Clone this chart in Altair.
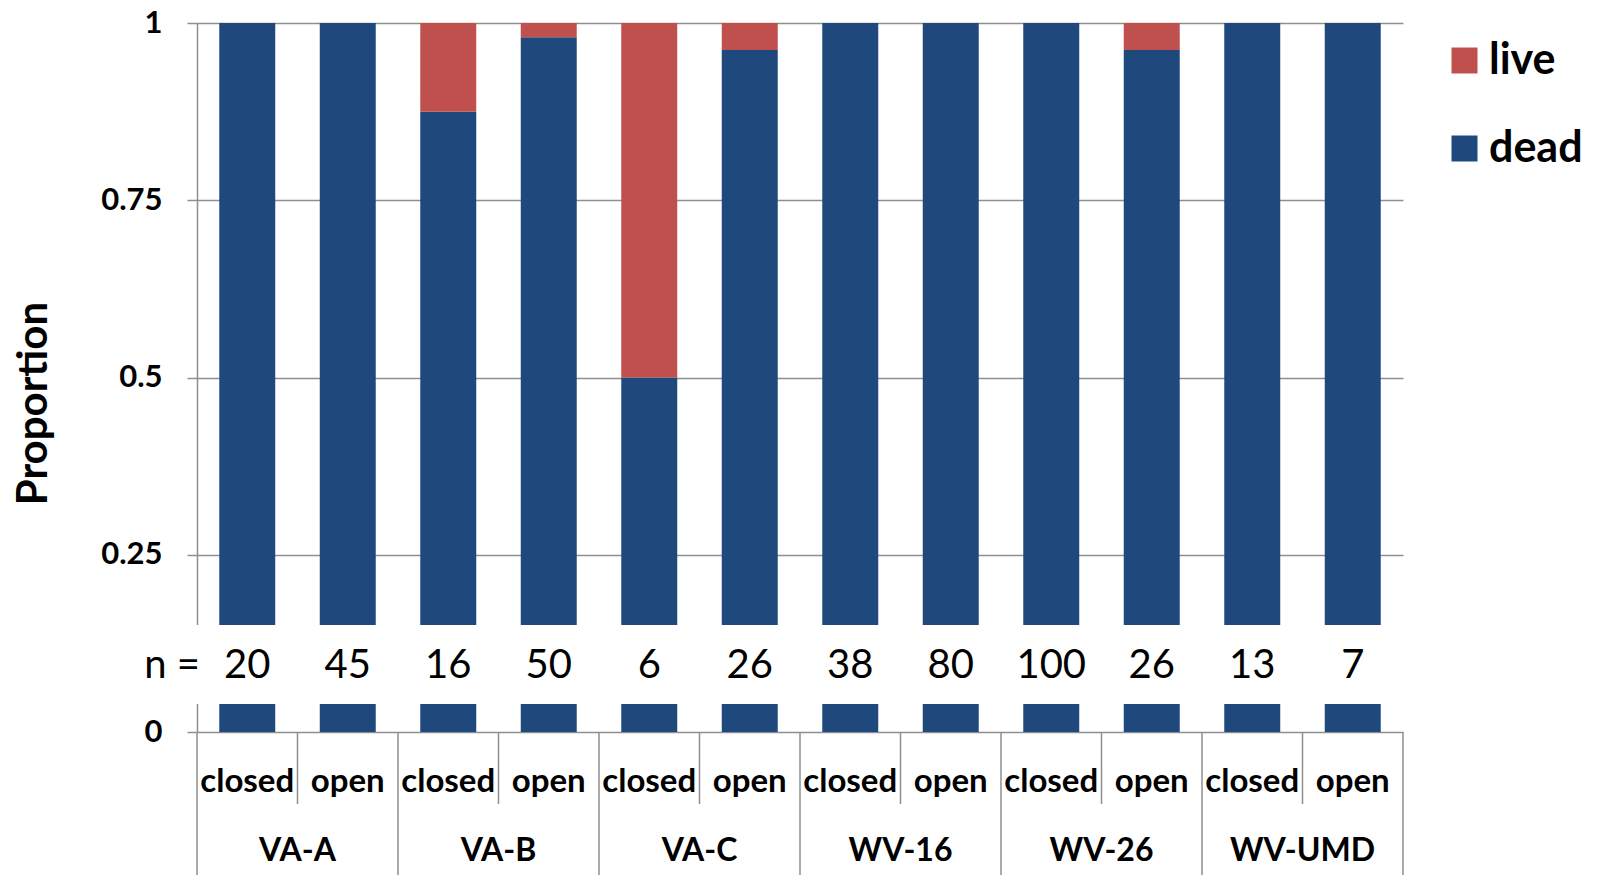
import altair as alt
import pandas as pd

groups = ["VA-A", "VA-B", "VA-C", "WV-16", "WV-26", "WV-UMD"]
treatments = ["closed", "open"]
n_values = [20, 45, 16, 50, 6, 26, 38, 80, 100, 26, 13, 7]
dead_prop = [1.0, 1.0, 0.875, 0.98, 0.5, 0.962, 1.0, 1.0, 1.0, 0.962, 1.0, 1.0]
y_ticks = [0, 0.25, 0.5, 0.75, 1]
series = ["live", "dead"]
colors = ["#C0504D", "#1F497D"]

FONT = "Lato"
GRAY = "#8f8f8f"
W, H = 1206, 709

cats, cat_group, cat_treat, rows = [], [], [], []
for gi, g in enumerate(groups):
    for ti, t in enumerate(treatments):
        i = gi * 2 + ti
        key = f"{g}|{t}"
        cats.append(key)
        cat_group.append(g)
        cat_treat.append(t)
        rows.append(dict(cat=key, status="dead", value=dead_prop[i], ord=0))
        rows.append(dict(cat=key, status="live", value=round(1 - dead_prop[i], 4), ord=1))

bars_df = pd.DataFrame(rows)
cat_df = pd.DataFrame(dict(cat=cats, group=cat_group, treat=cat_treat, n=n_values))
one = pd.DataFrame({"a": [0]})

xscale = alt.Scale(paddingInner=0, paddingOuter=0)


def X(bp=None):
    if bp is None:
        return alt.X("cat:N", sort=cats, scale=xscale, axis=None)
    return alt.X("cat:N", sort=cats, scale=xscale, axis=None, bandPosition=bp)


bars = alt.Chart(bars_df).mark_bar(width=alt.RelativeBandSize(band=0.557)).encode(
    x=X(),
    y=alt.Y(
        "value:Q",
        stack="zero",
        scale=alt.Scale(domain=[0, 1], nice=False),
        axis=alt.Axis(
            values=y_ticks, labelExpr="toString(datum.value)", grid=True,
            gridColor=GRAY, gridWidth=1.5,
            domainColor=GRAY, domainWidth=1.5,
            tickColor=GRAY, tickWidth=1.5, tickSize=10,
            labelFont=FONT, labelFontSize=31, labelFontWeight="bold",
            labelColor="black", labelPadding=25,
            title="Proportion", titleFont=FONT, titleFontSize=42,
            titleFontWeight="bold", titleColor="black",
            titleX=-164, titleY=380, titleAngle=270,
            titleAlign="center", titleBaseline="middle",
        ),
    ),
    color=alt.Color(
        "status:N",
        scale=alt.Scale(domain=series, range=colors),
        legend=alt.Legend(
            title=None, orient="none", legendX=1246, legendY=16,
            symbolType="square", symbolSize=676, symbolStrokeWidth=0,
            symbolOpacity=1,
            labelFont=FONT, labelFontSize=43, labelFontWeight="bold",
            labelColor="black", labelOffset=3, rowPadding=44, padding=0,
        ),
    ),
    order=alt.Order("ord:Q"),
)

band = alt.Chart(one).mark_rect(color="white").encode(
    x=alt.value(-4), x2=alt.value(W), y=alt.value(602), y2=alt.value(681)
)

n_text = alt.Chart(cat_df).mark_text(font=FONT, fontSize=40, baseline="middle", color="black").encode(
    x=X(), y=alt.value(643), text="n:Q"
)
n_label = alt.Chart(one).mark_text(font=FONT, fontSize=40, baseline="middle", color="black").encode(
    x=alt.value(-25), y=alt.value(643), text=alt.value("n =")
)

treat_text = alt.Chart(cat_df).mark_text(
    font=FONT, fontSize=33, fontWeight="bold", baseline="middle", color="black"
).encode(x=X(), y=alt.value(759), text="treat:N")

group_text = alt.Chart(cat_df).transform_filter(alt.datum.treat == "closed").mark_text(
    font=FONT, fontSize=32, fontWeight="bold", baseline="middle", color="black", dx=W / 24
).encode(x=X(), y=alt.value(828), text="group:N")

sep_group = alt.Chart(cat_df).transform_filter(alt.datum.treat == "closed").mark_rule(
    color=GRAY, strokeWidth=1.5
).encode(x=X(0), y=alt.value(H), y2=alt.value(H + 170))

sep_inner = alt.Chart(cat_df).transform_filter(alt.datum.treat == "open").mark_rule(
    color=GRAY, strokeWidth=1.5
).encode(x=X(0), y=alt.value(H), y2=alt.value(H + 72))

sep_end = alt.Chart(cat_df).transform_filter(alt.datum.cat == cats[-1]).mark_rule(
    color=GRAY, strokeWidth=1.5
).encode(x=X(1), y=alt.value(H), y2=alt.value(H + 170))

chart = alt.layer(
    bars, band, n_text, n_label, treat_text, group_text, sep_group, sep_inner, sep_end
).properties(
    width=W, height=H,
    autosize=alt.AutoSizeParams(type="none"),
    padding={"left": 189, "top": 15, "right": 190, "bottom": 150},
).configure_view(stroke=None)

chart.save("out.html", embed_options={"renderer": "svg", "actions": False})
